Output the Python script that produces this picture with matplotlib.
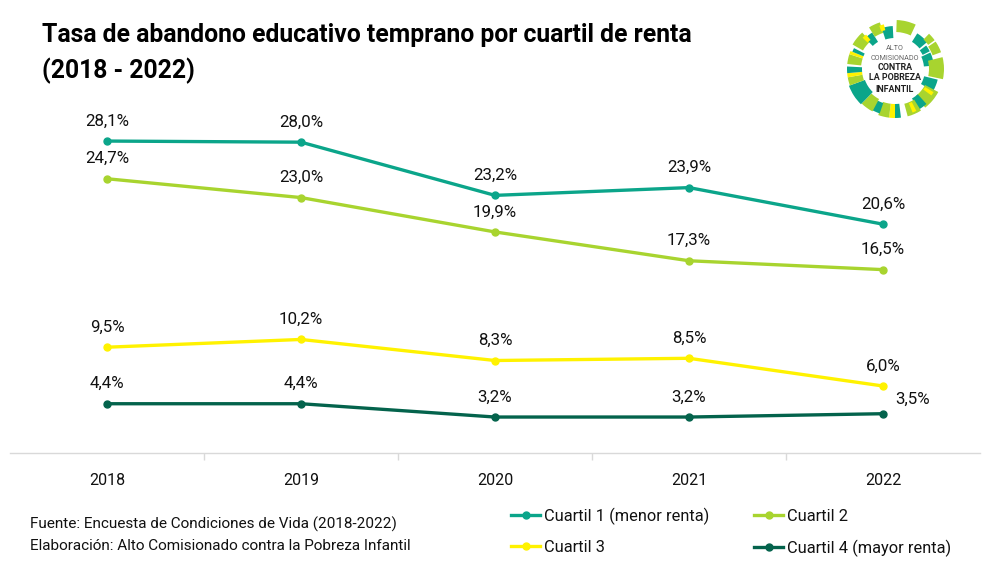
import matplotlib
matplotlib.use("Agg")
import matplotlib.pyplot as plt
from matplotlib.patches import Wedge

plt.rcParams['font.family'] = ['Roboto', 'DejaVu Sans']

years = ['2018', '2019', '2020', '2021', '2022']
cuartil_1 = [28.1, 28.0, 23.2, 23.9, 20.6]
cuartil_2 = [24.7, 23.0, 19.9, 17.3, 16.5]
cuartil_3 = [9.5, 10.2, 8.3, 8.5, 6.0]
cuartil_4 = [4.4, 4.4, 3.2, 3.2, 3.5]
names = ['Cuartil 1 (menor renta)', 'Cuartil 2', 'Cuartil 3', 'Cuartil 4 (mayor renta)']
colors = ['#0ba58a', '#a8d42f', '#fff200', '#04634c']

TEAL, LIME, YELLOW = '#0ba58a', '#a8d42f', '#fff200'
# logo pieces: start angle, end angle, inner radius, outer radius, colour
logo = [
    (65, 88, 37, 49, LIME), (40, 58, 32, 42, TEAL), (36, 46, 41, 49, LIME),
    (27, 37, 31, 39, TEAL), (20, 34, 40, 49, LIME), (5, 25, 29, 39, TEAL),
    (-12, 14, 34, 49, LIME),
    (-30, -14, 30, 44, TEAL), (-52, -28, 34, 49, LIME), (-36, -31, 35, 45, YELLOW),
    (-60, -48, 34, 47, TEAL), (-75, -58, 36, 49, LIME), (-68, -63, 37, 47, YELLOW),
    (-90, -83, 35, 49, TEAL), (-97, -90, 35, 49, YELLOW), (-110, -97, 35, 49, LIME),
    (240, 251, 36, 47, TEAL), (226, 242, 34, 48, LIME),
    (200, 226, 32, 49, TEAL),
    (190, 200, 33, 48, LIME), (185, 190, 33, 48, YELLOW), (177, 185, 33, 48, TEAL),
    (162, 174, 34, 48, LIME), (158, 162, 34, 48, YELLOW), (153, 158, 34, 46, TEAL),
    (132, 150, 37, 49, LIME), (122, 134, 32, 43, TEAL), (130, 136, 38, 45, YELLOW),
    (108, 122, 38, 49, LIME), (93, 108, 31, 43, TEAL), (104, 110, 40, 46, YELLOW),
]
logo_small = ['ALTO', 'COMISIONADO']
logo_big = ['CONTRA', 'LA POBREZA', 'INFANTIL']

W, H = 997, 579


def px_rect(x0, y0, x1, y1):
    return [x0 / W, 1 - y1 / H, (x1 - x0) / W, (y1 - y0) / H]


fig = plt.figure(figsize=(W / 100, H / 100), dpi=100)
ax = fig.add_axes(px_rect(10, 120, 980, 452.5))

series = [cuartil_1, cuartil_2, cuartil_3, cuartil_4]
x = list(range(len(years)))
lines = []
for vals, name, col in zip(series, names, colors):
    l, = ax.plot(x, vals, color=col, lw=2.4, marker='o', ms=5, label=name, clip_on=False)
    lines.append(l)
    for i, v in enumerate(vals):
        off = (0, 20)
        if name.startswith('Cuartil 4') and i == 4:
            off = (30, 14)
        ax.annotate(f'{v:.1f}%'.replace('.', ','), (i, v), xytext=off,
                    textcoords='offset pixels', ha='center', va='center',
                    fontsize=12.2, color='#111111')

ax.set_xlim(-0.5, 4.5)
ax.set_ylim(0, 30)
ax.set_yticks([])
ax.set_xticks(x)
ax.set_xticklabels(years, fontsize=11.5, color='#111111')
ax.set_xticks([0.5, 1.5, 2.5, 3.5], minor=True)
ax.tick_params(axis='x', which='major', length=0, pad=15)
ax.tick_params(axis='x', which='minor', length=5, color='#d9d9d9', width=1)
for s in ['top', 'left', 'right']:
    ax.spines[s].set_visible(False)
ax.spines['bottom'].set_color('#d9d9d9')
ax.spines['bottom'].set_linewidth(1)

fig.text(42 / W, 1 - 35 / H, 'Tasa de abandono educativo temprano por cuartil de renta',
         fontsize=17.8, fontweight='bold', color='black', va='center')
fig.text(42 / W, 1 - 71 / H, '(2018 - 2022)',
         fontsize=17.8, fontweight='bold', color='black', va='center')
fig.text(30 / W, 1 - 524 / H, 'Fuente: Encuesta de Condiciones de Vida (2018-2022)',
         fontsize=11, color='#111111', va='center')
fig.text(30 / W, 1 - 546 / H, 'Elaboración: Alto Comisionado contra la Pobreza Infantil',
         fontsize=11, color='#111111', va='center')

order = [0, 2, 1, 3]
fig.legend([lines[i] for i in order], [names[i] for i in order], ncol=2, frameon=False,
           loc='center left', bbox_to_anchor=(496 / W, 1 - 532 / H), fontsize=11.8,
           handlelength=1.8, handletextpad=0.2, columnspacing=2.75, labelspacing=0.95,
           labelcolor='#111111')

lax = fig.add_axes(px_rect(840, 14, 950, 124))
lax.set_xlim(-55, 55)
lax.set_ylim(-55, 55)
lax.axis('off')
for a0, a1, r0, r1, col in logo:
    lax.add_patch(Wedge((0, 0), r1, a0, a1, width=r1 - r0, color=col, lw=0))
for t, yy in zip(logo_small, [21, 11]):
    lax.text(0, yy, t, ha='center', va='center', fontsize=5.2, color='#666666')
for t, yy in zip(logo_big, [2, -9, -20]):
    lax.text(0, yy, t, ha='center', va='center', fontsize=6.4, fontweight='bold', color='#222222')

fig.savefig('out.png', dpi=100)
